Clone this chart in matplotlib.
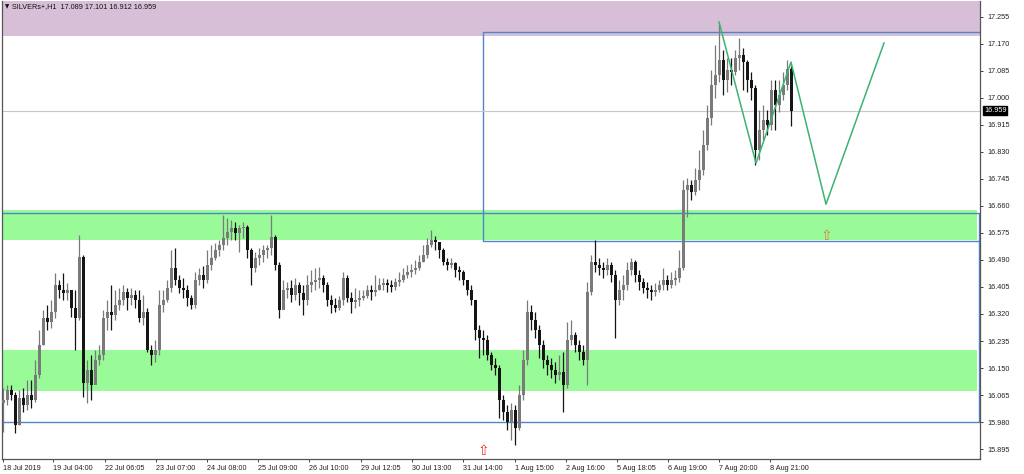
import matplotlib
matplotlib.use("Agg")
import matplotlib.pyplot as plt
from matplotlib.transforms import blended_transform_factory

plt.rcParams['font.family'] = ['Liberation Sans', 'DejaVu Sans']

# ---------------- data (H1 candles, aggregated) ----------------
first_open = 16.040
closes = [16.049, 16.081, 16.065, 15.971, 16.056, 16.034, 16.065, 16.049, 16.128, 16.223,
          16.307, 16.295, 16.326, 16.411, 16.395, 16.386, 16.395, 16.339, 16.307, 16.499,
          16.103, 16.144, 16.097, 16.175, 16.191, 16.307, 16.326, 16.317, 16.348, 16.364,
          16.389, 16.370, 16.380, 16.364, 16.307, 16.326, 16.207, 16.191, 16.207, 16.348,
          16.364, 16.402, 16.465, 16.427, 16.402, 16.395, 16.370, 16.348, 16.427, 16.443,
          16.427, 16.474, 16.496, 16.521, 16.537, 16.559, 16.578, 16.590, 16.575, 16.590,
          16.594, 16.521, 16.465, 16.496, 16.506, 16.521, 16.527, 16.562, 16.474, 16.332,
          16.395, 16.402, 16.380, 16.411, 16.386, 16.364, 16.411, 16.421, 16.427, 16.433,
          16.411, 16.364, 16.348, 16.339, 16.364, 16.433, 16.370, 16.358, 16.364, 16.370,
          16.377, 16.395, 16.389, 16.395, 16.411, 16.418, 16.411, 16.405, 16.421, 16.427,
          16.443, 16.452, 16.458, 16.465, 16.483, 16.506, 16.537, 16.553, 16.546, 16.521,
          16.483, 16.474, 16.480, 16.458, 16.452, 16.427, 16.395, 16.364, 16.270, 16.245,
          16.238, 16.191, 16.160, 16.150, 16.049, 16.012, 15.980, 16.018, 15.961, 16.065,
          16.175, 16.326, 16.301, 16.270, 16.223, 16.175, 16.160, 16.144, 16.128, 16.138,
          16.097, 16.238, 16.254, 16.223, 16.201, 16.175, 16.389, 16.483, 16.474, 16.465,
          16.458, 16.474, 16.443, 16.364, 16.395, 16.411, 16.458, 16.483, 16.443, 16.421,
          16.402, 16.395, 16.389, 16.395, 16.411, 16.427, 16.411, 16.427, 16.433, 16.465,
          16.710, 16.726, 16.704, 16.741, 16.773, 16.852, 16.936, 17.040, 17.072, 17.119,
          17.056, 17.087, 17.081, 17.125, 17.135, 17.113, 17.056, 17.031, 16.836, 16.899,
          16.930, 16.914, 17.024, 16.977, 17.009, 17.040, 17.089, 16.959]
highs = [16.087, 16.097, 16.097, 16.075, 16.081, 16.087, 16.112, 16.112, 16.175, 16.270,
         16.332, 16.348, 16.364, 16.449, 16.427, 16.449, 16.418, 16.395, 16.395, 16.568,
         16.506, 16.175, 16.191, 16.207, 16.223, 16.332, 16.364, 16.411, 16.395, 16.402,
         16.411, 16.402, 16.402, 16.395, 16.395, 16.380, 16.339, 16.223, 16.238, 16.395,
         16.395, 16.427, 16.521, 16.527, 16.443, 16.433, 16.411, 16.380, 16.452, 16.465,
         16.471, 16.521, 16.537, 16.543, 16.553, 16.631, 16.622, 16.616, 16.609, 16.600,
         16.609, 16.600, 16.527, 16.515, 16.527, 16.537, 16.537, 16.631, 16.568, 16.483,
         16.427, 16.421, 16.427, 16.433, 16.421, 16.411, 16.443, 16.458, 16.465, 16.468,
         16.443, 16.421, 16.380, 16.370, 16.377, 16.452, 16.443, 16.389, 16.402, 16.395,
         16.395, 16.411, 16.411, 16.443, 16.433, 16.433, 16.430, 16.427, 16.433, 16.452,
         16.465, 16.474, 16.477, 16.490, 16.506, 16.537, 16.559, 16.584, 16.565, 16.546,
         16.527, 16.496, 16.496, 16.483, 16.471, 16.458, 16.427, 16.411, 16.364, 16.285,
         16.270, 16.254, 16.201, 16.182, 16.160, 16.065, 16.034, 16.040, 16.034, 16.097,
         16.207, 16.364, 16.348, 16.326, 16.285, 16.238, 16.191, 16.182, 16.169, 16.191,
         16.201, 16.295, 16.301, 16.263, 16.238, 16.223, 16.421, 16.506, 16.553, 16.496,
         16.483, 16.496, 16.483, 16.458, 16.427, 16.443, 16.483, 16.496, 16.490, 16.458,
         16.433, 16.421, 16.411, 16.418, 16.427, 16.465, 16.443, 16.452, 16.458, 16.521,
         16.741, 16.748, 16.741, 16.779, 16.836, 16.899, 16.977, 17.087, 17.166, 17.235,
         17.150, 17.125, 17.125, 17.150, 17.188, 17.157, 17.119, 17.081, 17.040, 16.962,
         16.977, 16.962, 17.056, 17.056, 17.056, 17.081, 17.119, 17.101]
lows = [15.949, 16.034, 16.049, 15.946, 15.971, 16.012, 16.018, 16.024, 16.043, 16.119,
        16.223, 16.270, 16.276, 16.307, 16.370, 16.364, 16.364, 16.311, 16.207, 16.301,
        16.059, 16.040, 16.049, 16.138, 16.160, 16.175, 16.270, 16.270, 16.301, 16.332,
        16.348, 16.332, 16.348, 16.339, 16.295, 16.285, 16.201, 16.160, 16.169, 16.191,
        16.326, 16.358, 16.389, 16.411, 16.386, 16.370, 16.345, 16.336, 16.339, 16.411,
        16.402, 16.418, 16.458, 16.490, 16.502, 16.521, 16.537, 16.553, 16.553, 16.515,
        16.559, 16.496, 16.411, 16.452, 16.474, 16.483, 16.496, 16.506, 16.458, 16.307,
        16.364, 16.370, 16.358, 16.364, 16.348, 16.317, 16.348, 16.389, 16.395, 16.402,
        16.389, 16.345, 16.323, 16.326, 16.332, 16.348, 16.358, 16.323, 16.339, 16.345,
        16.364, 16.370, 16.364, 16.377, 16.395, 16.395, 16.389, 16.389, 16.395, 16.408,
        16.421, 16.433, 16.436, 16.446, 16.458, 16.483, 16.496, 16.531, 16.521, 16.496,
        16.474, 16.458, 16.465, 16.436, 16.427, 16.411, 16.380, 16.348, 16.238, 16.182,
        16.191, 16.175, 16.144, 16.128, 15.993, 15.987, 15.955, 15.924, 15.908, 15.955,
        16.049, 16.160, 16.270, 16.245, 16.182, 16.150, 16.128, 16.119, 16.103, 16.112,
        16.012, 16.087, 16.223, 16.201, 16.175, 16.160, 16.097, 16.380, 16.452, 16.443,
        16.433, 16.443, 16.421, 16.245, 16.348, 16.364, 16.395, 16.443, 16.421, 16.395,
        16.386, 16.370, 16.364, 16.377, 16.389, 16.395, 16.395, 16.402, 16.411, 16.421,
        16.458, 16.625, 16.678, 16.694, 16.710, 16.757, 16.836, 16.914, 16.999, 17.050,
        17.009, 17.018, 17.040, 17.072, 17.087, 17.024, 17.018, 16.993, 16.789, 16.804,
        16.867, 16.883, 16.899, 16.899, 16.955, 16.993, 17.024, 16.912]

x_labels = ["18 Jul 2019", "19 Jul 04:00", "22 Jul 06:05", "23 Jul 07:00", "24 Jul 08:00",
            "25 Jul 09:00", "26 Jul 10:00", "29 Jul 12:05", "30 Jul 13:00", "31 Jul 14:00",
            "1 Aug 15:00", "2 Aug 16:00", "5 Aug 18:05", "6 Aug 19:00", "7 Aug 20:00",
            "8 Aug 21:00"]
x_label_pos = [0, 12.5, 25.5, 38.25, 51, 63.75, 76.5, 89.5, 102.25, 115, 128, 140.75,
               153.5, 166.25, 179, 191.75]
y_ticks = [17.255, 17.170, 17.085, 17.000, 16.915, 16.830, 16.745, 16.660, 16.575,
           16.490, 16.405, 16.320, 16.235, 16.150, 16.065, 15.980, 15.895]

current_price = 16.959
title = "SILVERs+,H1  17.089 17.101 16.912 16.959"

# zones / objects (prices)
resistance_zone = (17.194, 17.40)
green_zone_upper = (16.553, 16.647)
green_zone_lower = (16.078, 16.207)
rect_upper = (120, 17.207, 16.550)       # start bar, top, bottom
rect_lower = (244.0, 16.638, 15.980)     # end bar, top, bottom
zz_x = [179, 188.25, 197, 205.75, 220.25]
zz_y = [17.238, 16.794, 17.112, 16.665, 17.172]
arrow_red = (120, 15.868)
arrow_orange = (205.75, 16.565)

# ---------------- figure ----------------
W, H = 1024, 474
fig = plt.figure(figsize=(W / 100, H / 100), dpi=100)
ax = fig.add_axes([2 / W, (H - 459) / H, (980 - 2) / W, (459 - 1) / H])
ax.set_xlim(-0.25, 244.25)
ax.set_ylim(15.864, 17.304)

# zones
ax.axhspan(resistance_zone[0], resistance_zone[1], color='#D8BFD8', lw=0, zorder=0)
ax.fill_between([-5, 243.6], green_zone_upper[0], green_zone_upper[1], color='#98FB98', lw=0, zorder=0)
ax.fill_between([-5, 243.6], green_zone_lower[0], green_zone_lower[1], color='#98FB98', lw=0, zorder=0)

# rectangles
blue = '#4F86C6'
ax.plot([300, rect_upper[0], rect_upper[0], 300],
        [rect_upper[1], rect_upper[1], rect_upper[2], rect_upper[2]], color=blue, lw=1.0, zorder=1)
ax.plot([-5, rect_lower[0], rect_lower[0], -5],
        [rect_lower[1], rect_lower[1], rect_lower[2], rect_lower[2]], color=blue, lw=1.0, zorder=1)

# current price line
ax.axhline(current_price, color='#C8C8C8', lw=0.8, zorder=1)

# candles
opens = [first_open] + closes[:-1]
bull_c, bear_c = '#7a7a7a', '#151515'
for i, (o, h, l, c) in enumerate(zip(opens, highs, lows, closes)):
    col = bull_c if c >= o else bear_c
    ax.vlines(i, l, h, color=col, lw=0.9, zorder=2)
    b = min(o, c)
    hgt = max(abs(c - o), 0.003)
    ax.bar(i, hgt, bottom=b, width=0.75, color=col, lw=0, zorder=3)

# zigzag
ax.plot(zz_x, zz_y, color='#3CB371', lw=1.1, zorder=4)

# arrows
ax.text(arrow_red[0], arrow_red[1], '\u21e7', color='#E03030', fontsize=10, ha='center', va='bottom',
        family='DejaVu Sans', zorder=5, clip_on=False)
ax.text(arrow_orange[0], arrow_orange[1], '\u21e7', color='#E07B39', fontsize=10, ha='center', va='center',
        family='DejaVu Sans', zorder=5)

# axes styling
ax.spines['top'].set_visible(False)
for s in ['left', 'right', 'bottom']:
    ax.spines[s].set_color('#555555')
    ax.spines[s].set_linewidth(0.9)

ax.yaxis.tick_right()
ax.set_yticks(y_ticks)
ax.set_yticklabels([f"{v:.3f}" for v in y_ticks])
ax.tick_params(axis='y', length=2.5, width=0.6, labelsize=5.2, pad=3, colors='#222222')

ax.set_xticks(x_label_pos)
ax.set_xticklabels(x_labels, ha='left')
ax.tick_params(axis='x', length=2.5, width=0.6, labelsize=5.2, pad=1.5, colors='#222222')

# current price label
tr = blended_transform_factory(ax.transAxes, ax.transData)
ax.text(1.004, current_price, "16.959", transform=tr, color='white', fontsize=5.2, va='center', ha='left',
        bbox=dict(boxstyle='square,pad=0.15', fc='black', ec='black'), zorder=6, clip_on=False)

# title
fig.text(5 / W, 1 - 7 / H, '\u25bc', fontsize=4, va='center', ha='left', family='DejaVu Sans', color='#111111')
fig.text(12 / W, 1 - 7 / H, title, fontsize=5.2, va='center', ha='left', color='#111111')

fig.savefig('out.png', dpi=100)
